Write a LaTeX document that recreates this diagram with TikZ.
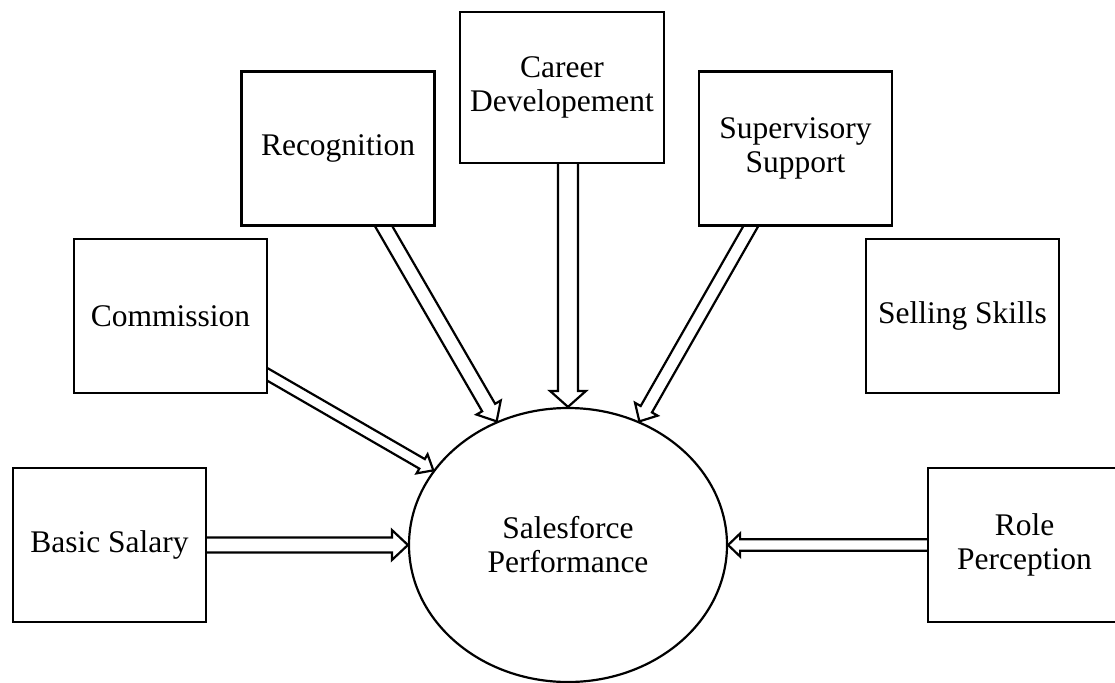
\documentclass[tikz,border=0pt]{standalone}
\usepackage{fontspec}
\setmainfont{Liberation Serif}
\usetikzlibrary{calc,shapes.geometric,backgrounds}
\tikzset{
  box/.style={draw, fill=white, line width=2.2pt, minimum width=193pt, minimum height=154pt, inner sep=0pt, align=center, font=\fontsize{31.5}{34}\selectfont},
  perfnode/.style={draw, ellipse, line width=2.2pt, minimum width=318pt, minimum height=274pt, inner sep=0pt, align=center, font=\fontsize{31.5}{34}\selectfont},
  blockarrow/.style n args={3}{line width=2.2pt, to path={
     ($(\tikztostart)!#1!-90:(\tikztotarget)$)
     -- ($(\tikztotarget)!#3!(\tikztostart)!#1!90:(\tikztostart)$)
     -- ($(\tikztotarget)!#3!(\tikztostart)!#2!90:(\tikztostart)$)
     -- (\tikztotarget)
     -- ($(\tikztotarget)!#3!(\tikztostart)!#2!-90:(\tikztostart)$)
     -- ($(\tikztotarget)!#3!(\tikztostart)!#1!-90:(\tikztostart)$)
     -- ($(\tikztostart)!#1!90:(\tikztotarget)$)
  }}
}
\begin{document}
\begin{tikzpicture}[x=1pt, y=-1pt]
\path[use as bounding box] (0,0) rectangle (1115,682);
\clip (0,0) rectangle (1115,682);
\node[perfnode] (perf) at (568,545) {Salesforce\\Performance};
\node[box] (bs) at (109.5,545) {Basic Salary};
\node[box] (com) at (170.5,316) {Commission};
\node[box] (rec) at (338,148.5) {Recognition};
\node[box, minimum width=204pt, minimum height=151pt] (cd) at (562,87.5) {Career\\Developement};
\node[box] (sup) at (795.5,148.5) {Supervisory\\Support};
\node[box] (sell) at (962.5,316) {Selling Skills};
\node[box] (rp) at (1024.5,545) {Role\\Perception};
\coordinate (comE) at ($(com.east)!0.753!(com.south east)$);
\coordinate (comS) at ($(comE)!-12pt!(perf.151)$);
\coordinate (recE) at ($(rec.south)!0.47!(rec.south east)$);
\coordinate (recS) at ($(recE)!-12pt!(perf.120)$);
\coordinate (cdS) at (perf.north |- cd.south);
\coordinate (supE) at ($(sup.south)!0.461!(sup.south west)$);
\coordinate (supS) at ($(supE)!-12pt!(perf.60.5)$);
\begin{scope}[on background layer]
\draw[blockarrow={7.5pt}{15pt}{16pt}] (bs.east) to (perf.west);
\draw[blockarrow={5.5pt}{11pt}{13pt}] (comS) to (perf.151);
\draw[blockarrow={7.5pt}{14pt}{16pt}] (recS) to (perf.120);
\draw[blockarrow={10pt}{18pt}{16pt}] (cdS) to (perf.north);
\draw[blockarrow={6.5pt}{13pt}{14pt}] (supS) to (perf.60.5);
\draw[blockarrow={5.75pt}{11.5pt}{12pt}] (rp.west) to (perf.east);
\end{scope}
\end{tikzpicture}
\end{document}
